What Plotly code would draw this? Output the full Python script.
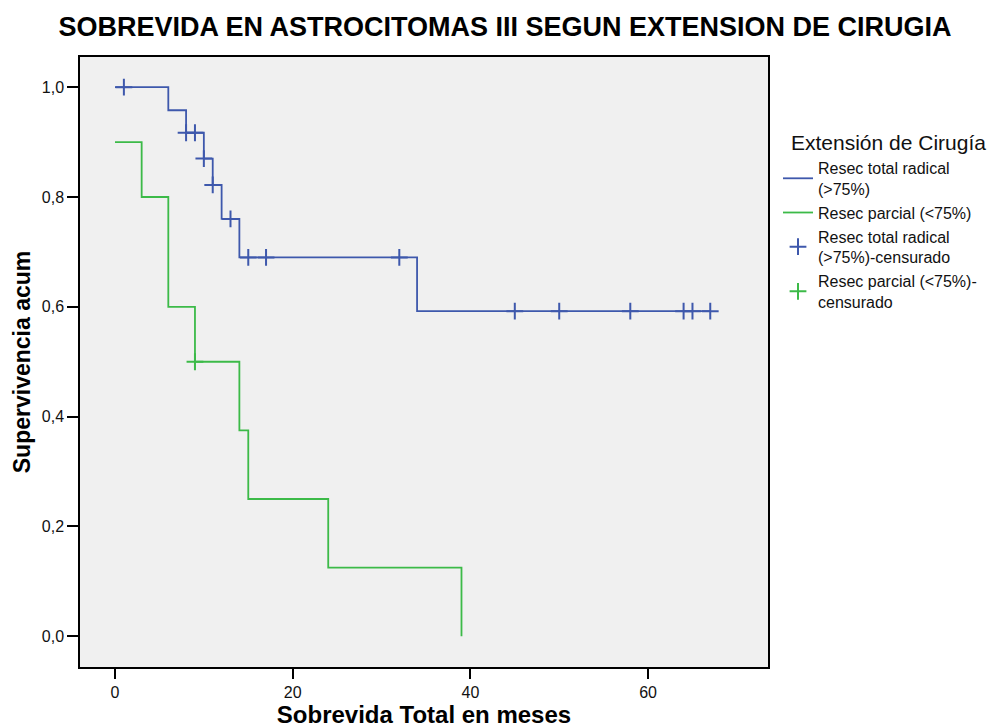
import plotly.graph_objects as go

# ---- data ----
blue_name = "Resec total radical<br>(>75%)"
green_name = "Resec parcial (<75%)"
blue_cens_name = "Resec total radical<br>(>75%)-censurado"
green_cens_name = "Resec parcial (<75%)-<br>censurado"

blue_t = [0, 6, 8, 10, 11, 12, 14, 34, 67]
blue_s = [1.0, 0.958, 0.917, 0.870, 0.822, 0.760, 0.690, 0.592, 0.592]
blue_cens_t = [1, 8, 9, 10, 11, 13, 15, 17, 32, 45, 50, 58, 64, 65, 67]

green_t = [0, 3, 6, 9, 14, 15, 24, 39]
green_s = [0.9, 0.8, 0.6, 0.5, 0.375, 0.25, 0.125, 0.0]
green_cens_t = [9]

x_ticks = [0, 20, 40, 60]
y_ticks = [0.0, 0.2, 0.4, 0.6, 0.8, 1.0]

BLUE = "#3e58ac"
GREEN = "#3cba48"


def surv_at(times, surv, t):
    val = surv[0]
    for ti, si in zip(times, surv):
        if ti <= t:
            val = si
    return val


blue_cens_s = [surv_at(blue_t, blue_s, t) for t in blue_cens_t]
green_cens_s = [surv_at(green_t, green_s, t) for t in green_cens_t]

fig = go.Figure()
fig.add_trace(go.Scatter(x=blue_t, y=blue_s, mode="lines", line_shape="hv",
                         line=dict(color=BLUE, width=1.8), name=blue_name))
fig.add_trace(go.Scatter(x=green_t, y=green_s, mode="lines", line_shape="hv",
                         line=dict(color=GREEN, width=1.8), name=green_name))
fig.add_trace(go.Scatter(x=blue_cens_t, y=blue_cens_s, mode="markers",
                         marker=dict(symbol="cross-thin-open", size=12, color=BLUE,
                                     line=dict(color=BLUE, width=2)),
                         name=blue_cens_name))
fig.add_trace(go.Scatter(x=green_cens_t, y=green_cens_s, mode="markers",
                         marker=dict(symbol="cross-thin-open", size=12, color=GREEN,
                                     line=dict(color=GREEN, width=2)),
                         name=green_cens_name))

# page body has an 8px margin: figure pixel = screen pixel - 8
OFF = 8
W, H = 998 - OFF, 728 - OFF
PX0, PX1, PY0, PY1 = 80 - OFF, 768 - OFF, 57 - OFF, 667 - OFF
ML, MR, MT, MB = PX0, W - PX1, PY0, H - PY1
PW = PX1 - PX0
PH = PY1 - PY0


def px(x):
    return (x - OFF - PX0) / PW


def py(y):
    return (PY1 - (y - OFF)) / PH


fig.update_layout(
    width=W, height=H,
    margin=dict(l=ML, r=MR, t=MT, b=MB, autoexpand=False),
    paper_bgcolor="white",
    plot_bgcolor="#f0f0f0",
    separators=",.",
    font=dict(family="Liberation Sans, Arial, sans-serif", color="#111111"),
    title=dict(text="<b>SOBREVIDA EN ASTROCITOMAS III SEGUN EXTENSION DE CIRUGIA</b>",
               x=(505 - OFF) / W, xanchor="center", y=1 - (27 - OFF) / H, yanchor="middle",
               font=dict(size=27, color="#000000")),
    showlegend=True,
    legend=dict(x=px(778), xanchor="left", y=py(151), yanchor="top",
                bgcolor="rgba(0,0,0,0)", borderwidth=0,
                font=dict(size=16, color="#111111"),
                itemwidth=30, tracegroupgap=0),
    annotations=[dict(text="Extensión de Cirugía", xref="paper", yref="paper",
                      x=px(789), xanchor="left",
                      y=py(142), yanchor="middle", showarrow=False,
                      font=dict(size=21, color="#111111"))],
)

fig.update_xaxes(range=[-3.94, 73.5], tickvals=x_ticks, ticks="outside", ticklen=10,
                 tickwidth=2, tickcolor="black", showgrid=False, zeroline=False,
                 showline=True, linecolor="black", linewidth=1.5, mirror=True,
                 tickfont=dict(size=16, color="#111111"),
                 title=dict(text="<b>Sobrevida Total en meses</b>", standoff=11,
                            font=dict(size=24, color="#000000")))
fig.update_yaxes(range=[-0.056, 1.055], tickvals=y_ticks, tickformat=".1f",
                 ticks="outside", ticklen=11, tickwidth=2, tickcolor="black",
                 showgrid=False, zeroline=False, showline=True, linecolor="black",
                 linewidth=1.5, mirror=True,
                 tickfont=dict(size=16, color="#111111"),
                 title=dict(text="<b>Supervivencia acum</b>", standoff=5,
                            font=dict(size=23, color="#000000")))

fig.write_html("out.html")
